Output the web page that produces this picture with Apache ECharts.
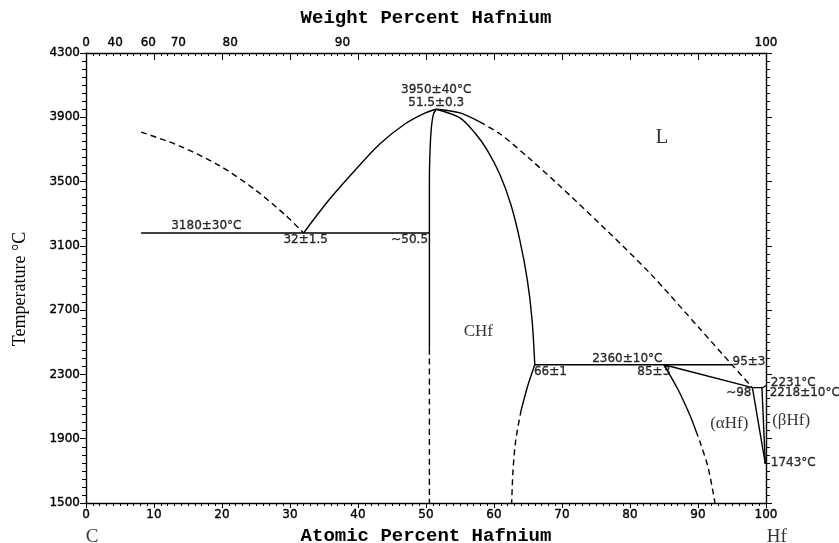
<!DOCTYPE html>
<html>
<head>
<meta charset="utf-8">
<script src="https://cdn.jsdelivr.net/npm/echarts@6/dist/echarts.min.js"></script>
<style>
  html, body { margin: 0; padding: 0; background: #fff; }
  #chart { width: 839px; height: 543px; }
</style>
</head>
<body>
<div id="chart"></div>
<script>
// C–Hf phase diagram: atomic percent Hf vs temperature (°C)

// Axis ranges and ticks
const atTicks = [0, 10, 20, 30, 40, 50, 60, 70, 80, 90, 100];
const tempTicks = [1500, 1900, 2300, 2700, 3100, 3500, 3900, 4300];
const wtTickLabels = [0, 40, 60, 70, 80, 90, 100];

// Phase boundaries, [at.% Hf, °C]
const liquidusCDashed = [[8.1, 3808], [13.8, 3721], [19.7, 3597], [24.9, 3448], [29.3, 3292], [32, 3180]];
const liquidusCSolid = [[32, 3180], [35.6, 3379], [39.6, 3572], [43.2, 3734], [46.9, 3858], [49.9, 3927], [51.5, 3950]];
const eutecticLine = [[8.1, 3180], [50.5, 3180]];
const chfLeftUpper = [[50.5, 3180], [50.5, 3500], [50.6, 3700], [50.8, 3840], [51.1, 3920], [51.5, 3950]];
const chfLeftSolid = [[50.5, 3180], [50.5, 2460]];
const chfLeftDashed = [[50.5, 2460], [50.5, 1500]];
const chfRightUpper = [[51.5, 3950], [55.0, 3896], [57.2, 3802], [59.0, 3696], [60.9, 3541], [62.5, 3354], [63.8, 3136], [64.9, 2888], [65.6, 2639], [66, 2360]];
const chfRightSolid = [[66, 2360], [65, 2234], [64, 2079]];
const chfRightDashed = [[64, 2079], [63.2, 1892], [62.8, 1705], [62.6, 1500]];
const liquidusHfSolid = [[51.5, 3950], [55.0, 3927], [57.9, 3871]];
const liquidusHfDashed = [[57.9, 3871], [60.9, 3796], [65.3, 3640], [69.7, 3472], [75.6, 3236], [82.9, 2931], [90.3, 2583], [95, 2360], [98, 2218]];
const peritecticLine = [[66, 2360], [95, 2360]];
const alphaSolidus = [[85, 2360], [98, 2218]];
const alphaSolvusSolid = [[85, 2360], [87.1, 2203], [88.8, 2047], [89.7, 1948]];
const alphaSolvusDashed = [[89.7, 1948], [90.3, 1880], [91.5, 1718], [92.5, 1500]];
const hfEndLines = [[98, 2218], [99.4, 2218], [100, 2231]];
const alphaBetaLeft = [[98, 2218], [99.9, 1743]];
const alphaBetaRight = [[99.4, 2218], [99.9, 1743]];

// Text annotations, [at.% Hf, °C, text]
const valueNotes = [
  [17.7, 3224, '3180±30°C'],
  [32.3, 3136, '32±1.5'],
  [47.6, 3136, '~50.5'],
  [51.5, 4070, '3950±40°C'],
  [51.5, 3989, '51.5±0.3'],
  [79.6, 2396, '2360±10°C'],
  [68.3, 2315, '66±1'],
  [83.5, 2315, '85±3'],
  [97.5, 2377, '95±3'],
  [104.0, 2247, '2231°C'],
  [105.7, 2184, '2218±10°C'],
  [96.0, 2184, '~98'],
  [104.0, 1749, '1743°C']
];
const phaseNotes = [
  [84.7, 3777, 'L', 21],
  [57.7, 2564, 'CHf', 17],
  [94.6, 1992, '(αHf)', 17],
  [103.7, 2016, '(βHf)', 17],
  [0.9, 1289, 'C', 19],
  [101.6, 1289, 'Hf', 19]
];

// Weight % Hf → atomic % Hf
const M_HF = 178.49, M_C = 12.011;
function wtToAt(w) {
  const nHf = w / M_HF, nC = (100 - w) / M_C;
  return 100 * nHf / (nHf + nC);
}
const wtTickPositions = wtTickLabels.map(wtToAt);

const sans = 'DejaVu Sans';
const serif = 'Liberation Serif';
const mono = 'Liberation Mono';

function lineSeries(data, dashed) {
  return {
    type: 'line',
    data: data,
    showSymbol: false,
    symbol: 'none',
    smooth: 0.3,
    animation: false,
    silent: true,
    clip: false,
    lineStyle: { color: '#000', width: 1.4, type: dashed ? [6, 4] : 'solid' }
  };
}

const noteText = {
  color: '#000', fontFamily: sans, fontSize: 12,
  textBorderColor: '#000', textBorderWidth: 0.35
};

const series = [
  lineSeries(liquidusCDashed, true),
  lineSeries(liquidusCSolid, false),
  lineSeries(eutecticLine, false),
  lineSeries(chfLeftUpper, false),
  lineSeries(chfLeftSolid, false),
  lineSeries(chfLeftDashed, true),
  lineSeries(chfRightUpper, false),
  lineSeries(chfRightSolid, false),
  lineSeries(chfRightDashed, true),
  lineSeries(liquidusHfSolid, false),
  lineSeries(liquidusHfDashed, true),
  lineSeries(peritecticLine, false),
  lineSeries(alphaSolidus, false),
  lineSeries(alphaSolvusSolid, false),
  lineSeries(alphaSolvusDashed, true),
  lineSeries(hfEndLines, false),
  lineSeries(alphaBetaLeft, false),
  lineSeries(alphaBetaRight, false),
  {
    type: 'scatter',
    symbolSize: 0,
    clip: false,
    silent: true,
    animation: false,
    data: valueNotes.map(n => ({ value: [n[0], n[1]], label: { formatter: n[2] } })),
    label: Object.assign({ show: true, position: 'inside', align: 'center', verticalAlign: 'middle' }, noteText)
  },
  {
    type: 'scatter',
    symbolSize: 0,
    clip: false,
    silent: true,
    animation: false,
    data: phaseNotes.map(n => ({ value: [n[0], n[1]], label: { formatter: n[2], fontSize: n[3] } })),
    label: {
      show: true, position: 'inside', color: '#000',
      fontFamily: serif, align: 'center', verticalAlign: 'middle'
    }
  }
];

const axisLine = { show: true, onZero: false, lineStyle: { color: '#000', width: 1.4 } };
const tickLabel = Object.assign({}, noteText);

const option = {
  animation: false,
  backgroundColor: '#fff',
  grid: { left: 86, right: 73, top: 53, bottom: 40, containLabel: false, outerBoundsMode: 'none' },
  xAxis: [
    {
      type: 'value', position: 'bottom', min: atTicks[0], max: atTicks[atTicks.length - 1], interval: 10,
      name: 'Atomic Percent Hafnium', nameLocation: 'middle', nameGap: 24,
      nameTextStyle: { color: '#000', fontFamily: mono, fontSize: 19, fontWeight: 'bold' },
      axisLine: axisLine,
      axisTick: { show: true, inside: false, length: 5, lineStyle: { color: '#000', width: 1 } },
      minorTick: { show: true, splitNumber: 10, length: 3, lineStyle: { color: '#000', width: 1 } },
      axisLabel: Object.assign({ margin: 6, customValues: atTicks, formatter: v => String(v) }, tickLabel),
      splitLine: { show: false }
    },
    {
      type: 'value', position: 'top', min: 0, max: 100, interval: 10,
      name: 'Weight Percent Hafnium', nameLocation: 'middle', nameGap: 25,
      nameTextStyle: { color: '#000', fontFamily: mono, fontSize: 19, fontWeight: 'bold' },
      axisLine: axisLine,
      axisTick: { show: true, inside: true, length: 7, lineStyle: { color: '#000', width: 1 } },
      minorTick: { show: true, splitNumber: 10, length: 3, lineStyle: { color: '#000', width: 1 } },
      axisLabel: Object.assign({
        margin: 4,
        customValues: wtTickPositions,
        formatter: v => {
          const i = wtTickPositions.findIndex(p => Math.abs(p - v) < 1e-6);
          return String(i >= 0 ? wtTickLabels[i] : Math.round(v));
        }
      }, tickLabel),
      splitLine: { show: false }
    }
  ],
  yAxis: [
    {
      type: 'value', position: 'left', min: tempTicks[0], max: tempTicks[tempTicks.length - 1], interval: 400,
      name: 'Temperature °C', nameLocation: 'middle', nameGap: 57, nameRotate: 90,
      nameTextStyle: { color: '#000', fontFamily: serif, fontSize: 18, padding: [0, 22, 0, 0] },
      axisLine: axisLine,
      axisTick: { show: true, inside: false, length: 6, lineStyle: { color: '#000', width: 1 } },
      minorTick: { show: true, splitNumber: 8, length: 4, lineStyle: { color: '#000', width: 1 } },
      axisLabel: Object.assign({ margin: 6, formatter: v => String(v) }, tickLabel),
      splitLine: { show: false }
    },
    {
      type: 'value', position: 'right', min: tempTicks[0], max: tempTicks[tempTicks.length - 1], interval: 400,
      axisLine: axisLine,
      axisTick: { show: true, inside: false, length: 6, lineStyle: { color: '#000', width: 1 } },
      minorTick: { show: true, splitNumber: 8, length: 4, lineStyle: { color: '#000', width: 1 } },
      axisLabel: { show: false },
      splitLine: { show: false }
    }
  ],
  series: series
};

const chart = echarts.init(document.getElementById('chart'), null, { renderer: 'canvas' });
chart.setOption(option);
</script>
</body>
</html>
